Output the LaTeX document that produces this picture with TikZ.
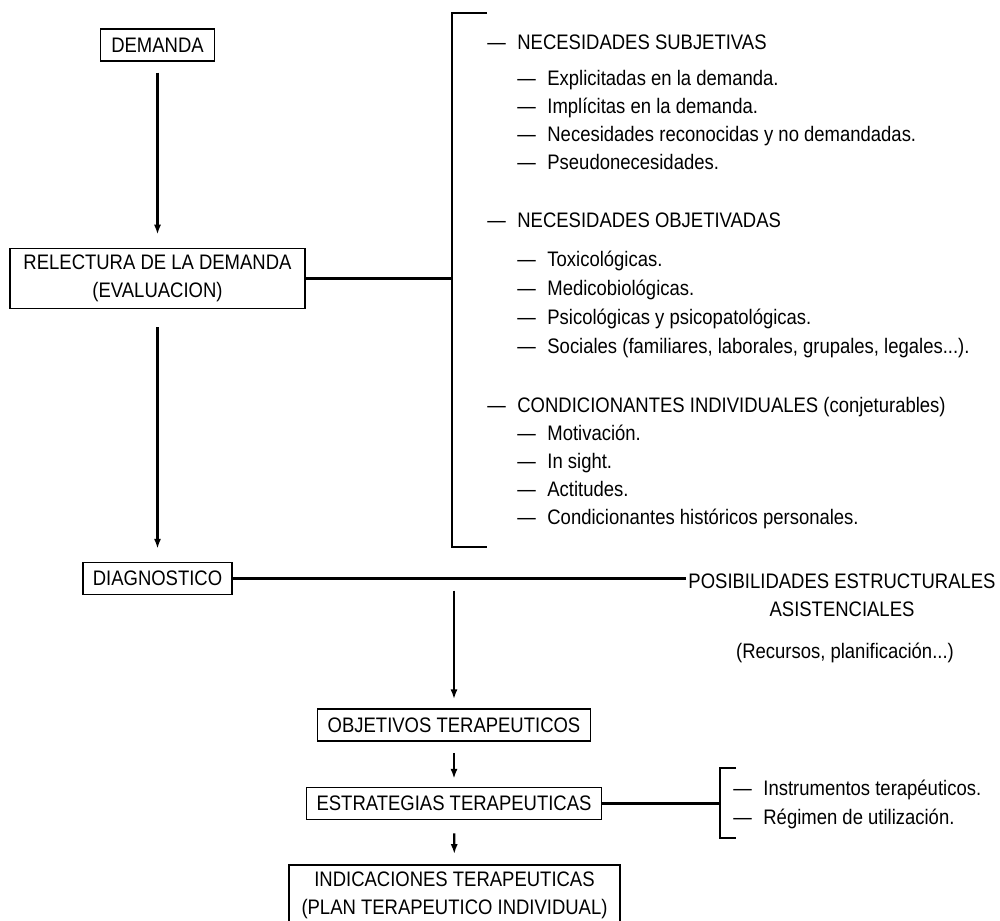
\documentclass[tikz,border=0pt]{standalone}
\usepackage{fontspec}
\setmainfont{Liberation Sans}[FakeStretch=0.88]
\usepackage{tikz}
\usetikzlibrary{arrows.meta}

% dash + fixed gap before the item text
\newcommand{\guion}[1]{\makebox[15pt][l]{---}#1}

\begin{document}
\begin{tikzpicture}[
            x=0.5pt, y=-0.5pt,
            font=\fontsize{10.5pt}{14pt}\selectfont,
            >={Latex[length=5pt,width=3.6pt]},
            % --- node styles ---
            flowbox/.style={
                draw, line width=0.75pt,
                minimum height=16pt, inner xsep=5pt,
                align=center
            },
            freetext/.style={
                inner sep=1pt, align=center
            },
            listline/.style={
                anchor=base west, inner sep=0pt
            },
            % --- edge styles ---
            arr/.style={->, line width=1.15pt},
            link/.style={line width=1.15pt},
            brace/.style={line width=1.4pt}
        ]

        \useasboundingbox (0,0) rectangle (1000,920);

        % ============================================================
        %  Main column on the left (x=157.5), second column under
        %  the diagnosis (x=454), bracketed lists on the right.
        % ============================================================

        % --- Left column ---
        \node[flowbox, minimum width=57pt] (demanda) at (157.5,45)
            {DEMANDA};

        \node[flowbox, minimum width=147.5pt, minimum height=28.5pt] (relectura) at (157.5,278.5)
            {RELECTURA DE LA DEMANDA\\(EVALUACION)};

        \node[flowbox, minimum width=74.5pt] (diag) at (157.5,578.5)
            {DIAGNOSTICO};

        % --- Structural possibilities (right) ---
        \node[freetext] (posib) at (842,595.5)
            {POSIBILIDADES ESTRUCTURALES\\ASISTENCIALES};

        \node[freetext] (recursos) at (845,653)
            {(Recursos, planificación...)};

        % --- Therapeutic chain ---
        \node[flowbox, minimum width=135.5pt] (obj) at (454,725)
            {OBJETIVOS TERAPEUTICOS};

        \node[flowbox, minimum width=147pt] (estr) at (454,803.5)
            {ESTRATEGIAS TERAPEUTICAS};

        \node[flowbox, minimum width=165.5pt, minimum height=30pt] (indic) at (454.5,895)
            {INDICACIONES TERAPEUTICAS\\(PLAN TERAPEUTICO INDIVIDUAL)};

        % --- Needs list (big bracket) ---
        \node[listline] (nsubj) at (487,49.5) {\guion{NECESIDADES SUBJETIVAS}};
        \node[listline] (explic) at (517,85.5) {\guion{Explicitadas en la demanda.}};
        \node[listline] (implic) at (517,113.5) {\guion{Implícitas en la demanda.}};
        \node[listline] (nreco) at (517,141.5) {\guion{Necesidades reconocidas y no demandadas.}};
        \node[listline] (pseudo) at (517,169.5) {\guion{Pseudonecesidades.}};

        \node[listline] (nobj) at (487,227.5) {\guion{NECESIDADES OBJETIVADAS}};
        \node[listline] (toxico) at (517,266.5) {\guion{Toxicológicas.}};
        \node[listline] (medico) at (517,295.5) {\guion{Medicobiológicas.}};
        \node[listline] (psico) at (517,324.5) {\guion{Psicológicas y psicopatológicas.}};
        \node[listline] (social) at (517,353.5) {\guion{Sociales (familiares, laborales, grupales, legales...).}};

        \node[listline] (condind) at (487,412.5) {\guion{CONDICIONANTES INDIVIDUALES (conjeturables)}};
        \node[listline] (motiv) at (517,440.5) {\guion{Motivación.}};
        \node[listline] (insight) at (517,468.5) {\guion{In sight.}};
        \node[listline] (actit) at (517,496.5) {\guion{Actitudes.}};
        \node[listline] (condhist) at (517,524.5) {\guion{Condicionantes históricos personales.}};

        % --- Strategy list (small bracket) ---
        \node[listline] (instr) at (733,795) {\guion{Instrumentos terapéuticos.}};
        \node[listline] (regim) at (733,824) {\guion{Régimen de utilización.}};

        % ===== Brackets =====
        \coordinate (brktop) at (452,13);
        \coordinate (brkbot) at (452,547);
        \draw[brace] ([xshift=17.5pt]brktop) -- (brktop) -- (brkbot) -- ([xshift=17.5pt]brkbot);

        \coordinate (sbrktop) at (720,768);
        \coordinate (sbrkbot) at (720,838);
        \draw[brace] ([xshift=8pt]sbrktop) -- (sbrktop) -- (sbrkbot) -- ([xshift=8pt]sbrkbot);

        % ===== Arrows: left column =====
        \draw[arr, shorten <=5.5pt, shorten >=6.5pt] (demanda) -- (relectura);
        \draw[arr, shorten <=9pt, shorten >=6.5pt] (relectura) -- (diag);

        % ===== Side links =====
        \draw[link] (relectura.east) -- (relectura.east -| brktop);
        \draw[link] (diag.east) -- (diag.east -| posib.west);
        \draw[link] (estr.east) -- (estr.east -| sbrktop);

        % ===== Arrows: therapeutic chain =====
        \coordinate (split) at (diag.east -| obj.north);
        \draw[arr, shorten <=6pt, shorten >=4.5pt] (split) -- (obj);
        \draw[arr, shorten <=5.5pt, shorten >=4pt] (obj) -- (estr);
        \draw[arr, shorten <=6.5pt, shorten >=5pt] (estr) -- (indic);

        \end{tikzpicture}
\end{document}
